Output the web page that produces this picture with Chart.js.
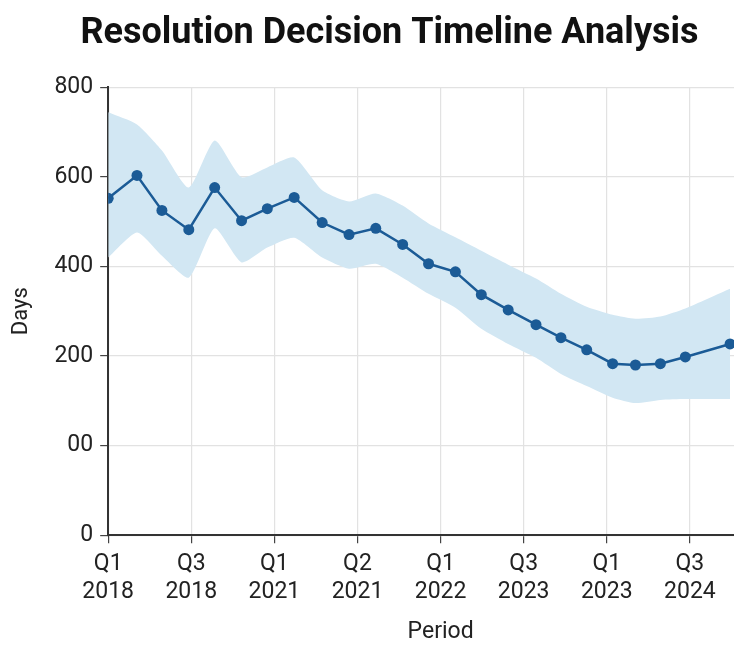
<!DOCTYPE html>
<html>
<head>
<meta charset="utf-8">
<script src="https://cdn.jsdelivr.net/npm/chart.js@4/dist/chart.umd.min.js"></script>
<style>
  html, body { margin: 0; padding: 0; background: #fff; overflow: hidden; }
  #wrap { width: 780px; height: 646px; }
</style>
</head>
<body>
<div id="wrap"><canvas id="chart" width="780" height="646"></canvas></div>
<script>
// Period position of each observation (months from Q1 2018 tick)
const periodOffsets = [0, 2.08, 3.88, 5.82, 7.69, 9.63, 11.49, 13.43, 15.45, 17.39, 19.32, 21.26,
  23.13, 25.07, 26.94, 28.88, 30.89, 32.69, 34.55, 36.42, 38.07, 39.87, 41.67, 44.9];
// Median days to resolution decision
const medianDays = [552, 603, 525, 482, 576, 502, 529, 554, 498, 471, 485, 449,
  406, 388, 337, 303, 270, 241, 214, 183, 180, 183, 198, 227];
// Upper and lower bounds of the range band
const upperDays = [744, 717, 659, 576, 681, 599, 621, 643, 570, 545, 563, 536,
  496, 465, 435, 404, 373, 339, 310, 292, 283, 288, 306, 350];
const lowerDays = [420, 476, 424, 375, 485, 409, 442, 464, 420, 395, 406, 375,
  339, 308, 261, 227, 196, 160, 133, 107, 95, 102, 104, 104];

// Axis tick labels
const xTickLabels = [["Q1", "2018"], ["Q3", "2018"], ["Q1", "2021"], ["Q2", "2021"],
  ["Q1", "2022"], ["Q3", "2023"], ["Q1", "2023"], ["Q3", "2024"]];
const yTickValues = [-200, 0, 200, 400, 600, 800];
const yTickLabels = ["0", "00", "200", "400", "600", "800"];

const toPoints = arr => arr.map((v, i) => ({ x: periodOffsets[i], y: v }));

const FONT = "Roboto, 'Liberation Sans', sans-serif";
const LINE = "#1b5b96";
const BAND = "#d2e7f3";

new Chart(document.getElementById("chart"), {
  type: "line",
  data: {
    datasets: [
      {
        label: "Median",
        data: toPoints(medianDays),
        borderColor: LINE,
        backgroundColor: LINE,
        borderWidth: 2.5,
        pointRadius: 5.5,
        pointHoverRadius: 5.5,
        pointBackgroundColor: LINE,
        pointBorderWidth: 0,
        tension: 0,
        fill: false,
        order: 0
      },
      {
        label: "Upper",
        data: toPoints(upperDays),
        borderWidth: 0,
        borderColor: "rgba(0,0,0,0)",
        backgroundColor: BAND,
        pointRadius: 0,
        tension: 0.2,
        fill: "+1",
        order: 2
      },
      {
        label: "Lower",
        data: toPoints(lowerDays),
        borderWidth: 0,
        borderColor: "rgba(0,0,0,0)",
        backgroundColor: BAND,
        pointRadius: 0,
        tension: 0.2,
        fill: false,
        order: 3
      }
    ]
  },
  options: {
    responsive: false,
    animation: false,
    devicePixelRatio: 1,
    layout: { padding: { left: 4, right: 5, top: 0, bottom: 0 } },
    plugins: {
      legend: { display: false },
      tooltip: { enabled: false },
      title: {
        display: true,
        text: "Resolution Decision Timeline Analysis",
        color: "#111",
        font: { family: FONT, size: 36, weight: "bold", lineHeight: 1.2 },
        padding: { top: 12, bottom: 32 }
      }
    },
    scales: {
      x: {
        type: "linear",
        min: 0,
        max: 48,
        border: { color: "#333", width: 2 },
        grid: { color: "#e2e2e2", lineWidth: 1.2, tickColor: "#444", tickLength: 8 },
        afterFit: axis => { axis.height -= 8; },
        ticks: {
          stepSize: 6,
          autoSkip: false,
          maxRotation: 0,
          padding: 7,
          color: "#222",
          font: { family: FONT, size: 23, lineHeight: 1.22 },
          callback: (v, i) => xTickLabels[i] || ""
        },
        title: {
          display: true,
          text: "Period",
          color: "#222",
          font: { family: FONT, size: 23, lineHeight: 1.2 },
          padding: { top: 13, bottom: 0 }
        }
      },
      y: {
        min: -200,
        max: 800,
        border: { color: "#333", width: 2 },
        grid: { color: "#e2e2e2", lineWidth: 1.2, tickColor: "#444", tickLength: 8 },
        afterBuildTicks: axis => { axis.ticks = yTickValues.map(v => ({ value: v })); },
        ticks: {
          padding: 7,
          color: "#222",
          font: { family: FONT, size: 23 },
          callback: v => yTickLabels[yTickValues.indexOf(v)]
        },
        title: {
          display: true,
          text: "Days",
          color: "#222",
          font: { family: FONT, size: 22, lineHeight: 1.2 },
          padding: { top: 4, bottom: 13 }
        }
      }
    }
  }
});
</script>
</body>
</html>
